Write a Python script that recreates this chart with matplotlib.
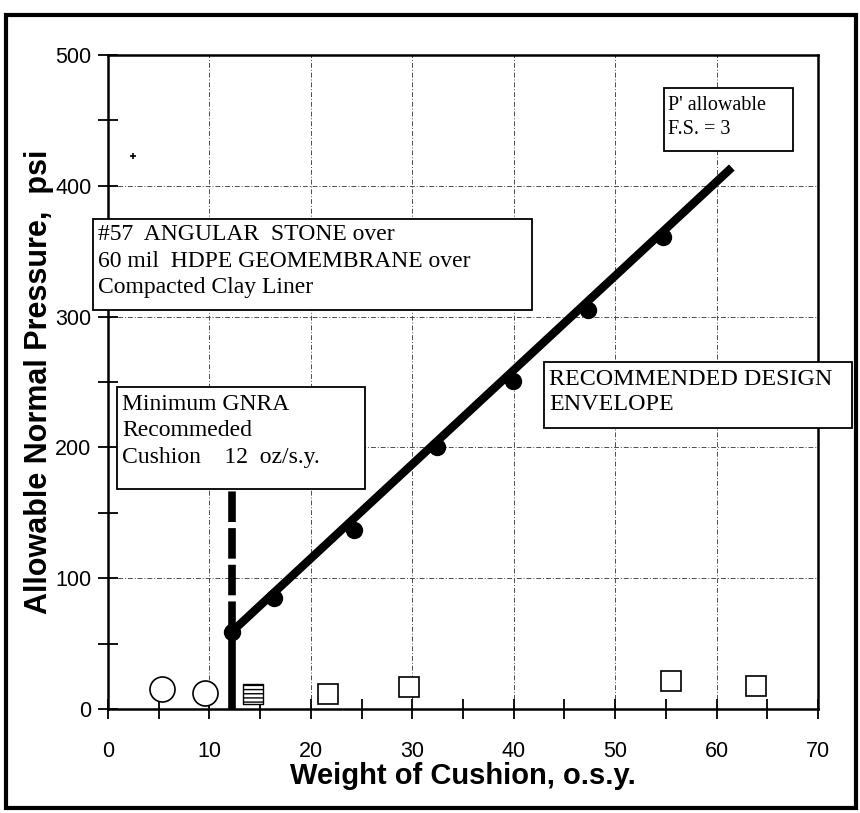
import matplotlib
matplotlib.use('Agg')
import matplotlib.pyplot as plt
from matplotlib.patches import Rectangle
from matplotlib.ticker import MultipleLocator

# cushion test results
design_x = [12.2, 16.4, 24.3, 32.4, 39.9, 47.3, 54.7]
design_y = [59, 85, 137, 200, 251, 305, 361]

envelope_x = [12.2, 61.5]
envelope_y = [59, 414]

min_cushion = 12.2
min_cushion_top = 168

circle_x = [5.3, 9.6]
circle_y = [15, 12]
hatched_x = [14.3]
hatched_y = [11.5]
square_x = [21.7, 29.7, 55.5, 63.9]
square_y = [11.5, 16.8, 21.4, 17.6]
stray_x = [2.5]
stray_y = [423]

x_ticks = [0, 10, 20, 30, 40, 50, 60, 70]
y_ticks = [0, 100, 200, 300, 400, 500]

SANS = ['Liberation Sans Narrow', 'Liberation Sans', 'DejaVu Sans']
SERIF = ['Liberation Serif', 'DejaVu Serif']

fig = plt.figure(figsize=(8.6, 8.13), dpi=100)
ax = fig.add_axes([0.1256, 0.1279, 0.8256, 0.8044])

ax.set_xlim(0, 70)
ax.set_ylim(0, 500)
ax.set_xticks(x_ticks)
ax.set_yticks(y_ticks)
ax.xaxis.set_minor_locator(MultipleLocator(5))
ax.yaxis.set_minor_locator(MultipleLocator(50))
ax.set_xticklabels([str(t) for t in x_ticks], family=SANS, fontsize=15.5)
ax.set_yticklabels([str(t) for t in y_ticks], family=SANS, fontsize=15.5)
ax.tick_params(which='both', direction='inout', length=14, width=1.3, color='black')
ax.tick_params(axis='x', pad=16)
ax.tick_params(axis='y', pad=5)

for s in ax.spines.values():
    s.set_linewidth(1.8)

ax.grid(True, which='major', color='0.3', linewidth=0.7, linestyle=(0, (5, 2, 1, 2)))
ax.set_axisbelow(True)

ax.set_xlabel('Weight of Cushion, o.s.y.', family=SANS, fontsize=21, fontweight='bold', labelpad=0)
ax.set_ylabel('Allowable Normal Pressure,  psi', family=SANS, fontsize=22, fontweight='bold', labelpad=1)

# envelope and minimum cushion line
ax.plot(envelope_x, envelope_y, color='black', linewidth=6, solid_capstyle='butt', zorder=4)
ax.plot([min_cushion, min_cushion], [0, design_y[0]], color='black', linewidth=5.5, zorder=4)
ax.plot([min_cushion, min_cushion], [design_y[0], min_cushion_top], color='black', linewidth=5.5,
        linestyle=(0, (4, 0.8)), zorder=4)
ax.plot(design_x, design_y, 'o', color='black', markersize=11.5, zorder=5)

ax.plot(circle_x, circle_y, 'o', mfc='white', mec='black', mew=1.2, markersize=18, zorder=5)
ax.scatter(hatched_x, hatched_y, marker='s', s=190, facecolor='white', edgecolor='black',
           hatch='----', linewidth=1.0, zorder=5)
ax.plot(square_x, square_y, 's', mfc='white', mec='black', mew=1.2, markersize=14, zorder=5)
ax.plot(stray_x, stray_y, '+', color='black', markersize=5, mew=1.2, zorder=5)

# annotation boxes
def box(x0, y0, x1, y1):
    ax.add_patch(Rectangle((x0, y1), x1 - x0, y0 - y1, facecolor='white', edgecolor='black',
                           linewidth=1.3, zorder=6, clip_on=False))

box(-1.48, 374.6, 41.8, 305.0)
ax.text(-1.0, 371, '#57  ANGULAR  STONE over\n60 mil  HDPE GEOMEMBRANE over\nCompacted Clay Liner',
        family=SERIF, fontsize=17, va='top', ha='left', linespacing=1.36, zorder=7, clip_on=False)

box(0.89, 246.2, 25.3, 168.2)
ax.text(1.4, 241, 'Minimum GNRA\nRecommeded\nCushion    12  oz/s.y.',
        family=SERIF, fontsize=17, va='top', ha='left', linespacing=1.34, zorder=7)

box(54.8, 474.8, 67.5, 426.6)
ax.text(55.2, 469, "P' allowable\nF.S. = 3",
        family=SERIF, fontsize=14.5, va='top', ha='left', linespacing=1.37, zorder=7)

box(43.0, 265.3, 73.3, 214.8)
ax.text(43.5, 260, 'RECOMMENDED DESIGN\nENVELOPE',
        family=SERIF, fontsize=17.3, va='top', ha='left', linespacing=1.27, zorder=7, clip_on=False)

# scanned page frame
fig.patches.append(Rectangle((0.007, 0.006), 0.988, 0.976, transform=fig.transFigure,
                             fill=False, edgecolor='black', linewidth=3))

fig.savefig('out.png', dpi=100)
